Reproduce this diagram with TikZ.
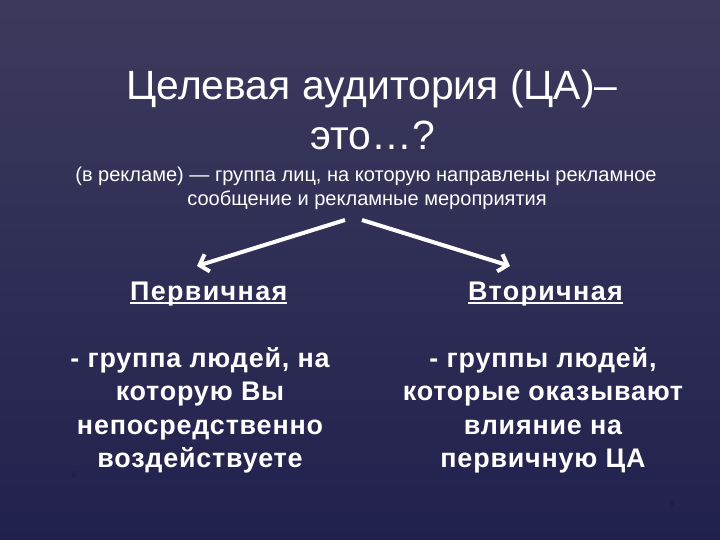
\documentclass[tikz,border=0pt]{standalone}
\usepackage{fontspec}
\setmainfont{Liberation Sans}
\newfontfamily\spacedfont{Liberation Sans}[LetterSpace=3]
\newfontfamily\headfont{Liberation Sans}[LetterSpace=5]
\usetikzlibrary{arrows.meta}
\definecolor{bgtop}{RGB}{60,58,92}
\definecolor{bgbot}{RGB}{33,33,78}
\definecolor{pagenum}{RGB}{26,26,58}
\tikzset{
  title/.style={text=white,font=\fontsize{41}{49}\selectfont,align=center,inner sep=0pt},
  subtitle/.style={text=white,font=\fontsize{20.1}{24}\selectfont,align=center,inner sep=0pt},
  heading/.style={text=white,font=\headfont\bfseries\fontsize{27}{30}\selectfont,inner sep=0pt,anchor=base},
  body/.style={text=white,font=\spacedfont\bfseries\fontsize{27}{33.7}\selectfont,align=center,inner sep=0pt,anchor=north},
  uline/.style={white,line width=1.8bp},
  arrowline/.style={white,line width=4bp,-{Straight Barb[length=8bp,width=18bp]}},
  pnum/.style={text=pagenum,font=\fontsize{8}{9}\selectfont,inner sep=0pt}
}
\begin{document}
\begin{tikzpicture}[x=1bp,y=-1bp]
\shade[top color=bgtop,bottom color=bgbot] (0,0) rectangle (720,540);
\useasboundingbox (0,0) rectangle (720,540);
\node[title,anchor=base] (t1) at (372,100) {Целевая аудитория (ЦА)–};
\node[title,anchor=base] (t2) at (373,150) {это…?};
\node[subtitle,anchor=base] (s1) at (366,182) {(в рекламе) — группа лиц, на которую направлены рекламное};
\node[subtitle,anchor=base] (s2) at (367,206) {сообщение и рекламные мероприятия};
\coordinate (aL) at (345,220);
\coordinate (aR) at (362,220);
\coordinate (hL) at (197,266);
\coordinate (hR) at (510,266);
\draw[arrowline] (aL) -- (hL);
\draw[arrowline] (aR) -- (hR);
\node[heading,anchor=base west] (h1) at (130,300) {Первичная\ };
\node[heading,anchor=base west] (h2) at (468,300) {Вторичная\ };
\draw[uline] ([yshift=-3bp]h1.base west) -- ([yshift=-3bp]h1.base east);
\draw[uline] ([yshift=-3bp]h2.base west) -- ([yshift=-3bp]h2.base east);
\node[body] (b1) at (200,347) {- группа людей, на\\которую Вы\\непосредственно\\воздействуете};
\node[body] (b2) at (543,347) {- группы людей,\\которые оказывают\\влияние на\\первичную ЦА};
\node[pnum] (p1) at (74,475) {6};
\node[pnum] (p2) at (672,504) {6};
\end{tikzpicture}
\end{document}
